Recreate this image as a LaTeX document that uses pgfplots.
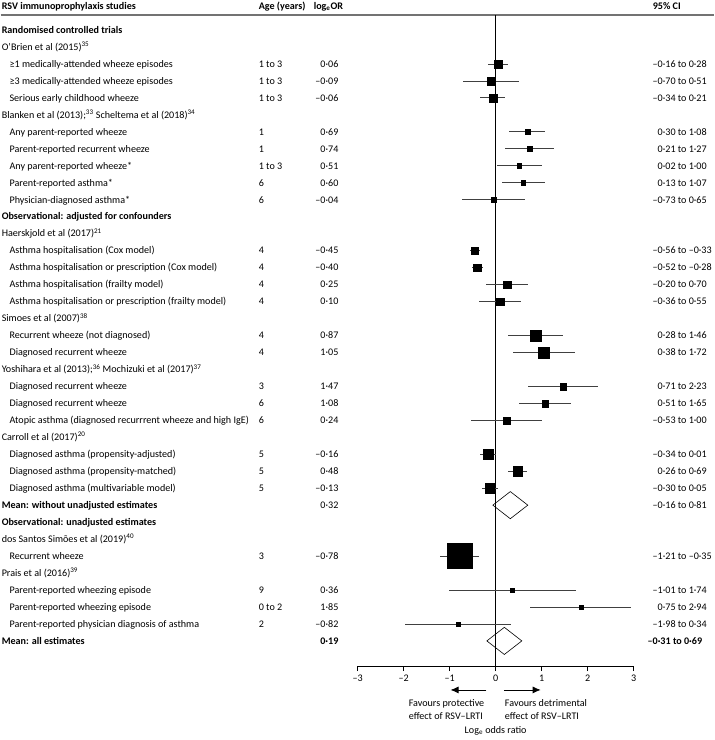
\documentclass[border=0pt]{standalone}
\usepackage{pgfplots}
\pgfplotsset{compat=1.18}
\usepackage{pgfplotstable}
\usetikzlibrary{arrows.meta}
\usepackage{fontspec}
\setmainfont{Carlito}

% row, logOR, CI plus, CI minus, marker half-size (pt)
\pgfplotstableread{
row x ep em s
3 0.06 0.22 0.22 4
4 -0.09 0.60 0.61 4
5 -0.06 0.27 0.28 4
7 0.69 0.39 0.39 2.3
8 0.74 0.53 0.53 2.3
9 0.51 0.49 0.49 2.3
10 0.60 0.47 0.47 2.3
11 -0.04 0.69 0.69 2.3
14 -0.45 0.12 0.11 3.6
15 -0.40 0.12 0.12 3.6
16 0.25 0.45 0.45 3.6
17 0.10 0.45 0.46 3.6
19 0.87 0.59 0.59 5.5
20 1.05 0.67 0.67 5.5
22 1.47 0.76 0.76 3.3
23 1.08 0.57 0.57 3.3
24 0.24 0.76 0.77 3.3
26 -0.16 0.17 0.18 4.8
27 0.48 0.21 0.22 4.8
28 -0.13 0.18 0.17 4.8
32 -0.78 0.43 0.43 12.5
34 0.36 1.38 1.37 2
35 1.85 1.09 1.10 2
36 -0.82 1.16 1.16 2
}\est

\newcommand{\fz}{\fontsize{10.1}{12}\selectfont}
\newcommand{\m}{\llap{–}}
\tikzset{
  txt/.style={anchor=base west, inner sep=0pt, yshift=-3.3pt, font=\fz},
  txr/.style={anchor=base east, inner sep=0pt, yshift=-3.3pt, font=\fz},
}
\newcommand{\st}[2]{\node[txt] at (axis cs:-10.74,#1) {#2};}
\newcommand{\oc}[6]{\node[txt] at (axis cs:-10.57,#1) {#2};
  \node[txt] at (axis cs:-5.152,#1) {#3};
  \node[txr] at (axis cs:-3.413,#1) {#4};
  \node[txt] at (axis cs:3.52,#1) {#5 to #6};}

\begin{document}
\begin{tikzpicture}
\begin{axis}[
  scale only axis, width=276pt, height=651pt,
  xmin=-3, xmax=3, ymin=0.116, ymax=38.48, y dir=reverse,
  axis x line*=bottom, axis y line=none,
  xtick={-3,-2,-1,0,1,2,3}, xticklabels={–3,–2,–1,0,1,2,3},
  tick align=outside, major tick length=5pt,
  tick style={black, line width=0.6pt},
  axis line style={black, line width=0.6pt},
  xticklabel style={font=\fz},
  clip=false,
]
% frame of the picture (invisible)
\path (axis cs:-10.761,-0.768) rectangle (axis cs:4.739,42.84);
% header
\node[txt, font=\fz\bfseries] at (axis cs:-10.74,-0.414) {RSV immunoprophylaxis studies};
\node[txt, font=\fz\bfseries] at (axis cs:-5.152,-0.414) {Age (years)};
\node[txt, font=\fz\bfseries] at (axis cs:-3.957,-0.414) {log\textsubscript{e}OR};
\node[txt, font=\fz\bfseries] at (axis cs:3.413,-0.414) {95\% CI};
\draw[black!55, line width=1.2pt] (axis cs:-10.761,0.116) -- (axis cs:4.739,0.116);

% diamonds (pooled means)
\addplot[draw=black, fill=white, line width=0.6pt] coordinates {(-0.06,29) (0.32,28.2) (0.70,29) (0.32,29.8)} -- cycle;
\addplot[draw=black, fill=white, line width=0.6pt] coordinates {(-0.19,37) (0.19,36.2) (0.57,37) (0.19,37.8)} -- cycle;
% line of no effect
\addplot[black, line width=0.6pt] coordinates {(0,0.116) (0,38.48)};

% estimates
\addplot[scatter, only marks, mark=square*,
  scatter/use mapped color={draw=black, fill=black},
  visualization depends on={\thisrow{s} \as \msize},
  scatter/@pre marker code/.append style={/tikz/mark size=\msize pt},
  mark options={line width=0.2pt},
  error bars/.cd, x dir=both, x explicit, error mark=none,
  error bar style={line width=0.8pt, black!75}]
  table[x=x, y=row, x error plus=ep, x error minus=em] {\est};

% arrows and axis captions
\draw[-{Latex[length=8pt,width=7pt]}, line width=0.8pt] (axis cs:-0.2,39.89) -- (axis cs:-0.98,39.89);
\draw[-{Latex[length=8pt,width=7pt]}, line width=0.8pt] (axis cs:0.18,39.89) -- (axis cs:0.98,39.89);
\node[txt] at (axis cs:-1.89,40.66) {Favours protective};
\node[txt] at (axis cs:-1.89,41.42) {effect of RSV–LRTI};
\node[txt] at (axis cs:0.2,40.66) {Favours detrimental};
\node[txt] at (axis cs:0.2,41.42) {effect of RSV–LRTI};
\node[anchor=base, inner sep=0pt, yshift=-3.3pt, font=\fz] at (axis cs:0,42.25) {Log\textsubscript{e} odds ratio};

% rows
\st{1}{\textbf{Randomised controlled trials}}
\st{2}{O’Brien et al (2015)\textsuperscript{35}}
\oc{3}{≥1 medically-attended wheeze episodes}{1 to 3}{0·06}{\m0·16}{0·28}
\oc{4}{≥3 medically-attended wheeze episodes}{1 to 3}{–0·09}{\m0·70}{0·51}
\oc{5}{Serious early childhood wheeze}{1 to 3}{–0·06}{\m0·34}{0·21}
\st{6}{Blanken et al (2013);\textsuperscript{33} Scheltema et al (2018)\textsuperscript{34}}
\oc{7}{Any parent-reported wheeze}{1}{0·69}{0·30}{1·08}
\oc{8}{Parent-reported recurrent wheeze}{1}{0·74}{0·21}{1·27}
\oc{9}{Any parent-reported wheeze*}{1 to 3}{0·51}{0·02}{1·00}
\oc{10}{Parent-reported asthma*}{6}{0·60}{0·13}{1·07}
\oc{11}{Physician-diagnosed asthma*}{6}{–0·04}{\m0·73}{0·65}
\st{12}{\textbf{Observational: adjusted for confounders}}
\st{13}{Haerskjold et al (2017)\textsuperscript{21}}
\oc{14}{Asthma hospitalisation (Cox model)}{4}{–0·45}{\m0·56}{–0·33}
\oc{15}{Asthma hospitalisation or prescription (Cox model)}{4}{–0·40}{\m0·52}{–0·28}
\oc{16}{Asthma hospitalisation (frailty model)}{4}{0·25}{\m0·20}{0·70}
\oc{17}{Asthma hospitalisation or prescription (frailty model)}{4}{0·10}{\m0·36}{0·55}
\st{18}{Simoes et al (2007)\textsuperscript{38}}
\oc{19}{Recurrent wheeze (not diagnosed)}{4}{0·87}{0·28}{1·46}
\oc{20}{Diagnosed recurrent wheeze}{4}{1·05}{0·38}{1·72}
\st{21}{Yoshihara et al (2013);\textsuperscript{36} Mochizuki et al (2017)\textsuperscript{37}}
\oc{22}{Diagnosed recurrent wheeze}{3}{1·47}{0·71}{2·23}
\oc{23}{Diagnosed recurrent wheeze}{6}{1·08}{0·51}{1·65}
\oc{24}{Atopic asthma (diagnosed recurrrent wheeze and high IgE)}{6}{0·24}{\m0·53}{1·00}
\st{25}{Carroll et al (2017)\textsuperscript{20}}
\oc{26}{Diagnosed asthma (propensity-adjusted)}{5}{–0·16}{\m0·34}{0·01}
\oc{27}{Diagnosed asthma (propensity-matched)}{5}{0·48}{0·26}{0·69}
\oc{28}{Diagnosed asthma (multivariable model)}{5}{–0·13}{\m0·30}{0·05}
\st{29}{\textbf{Mean: without unadjusted estimates}}
\node[txr] at (axis cs:-3.413,29) {0·32};
\node[txt] at (axis cs:3.52,29) {\m0·16 to 0·81};
\st{30}{\textbf{Observational: unadjusted estimates}}
\st{31}{dos Santos Simões et al (2019)\textsuperscript{40}}
\oc{32}{Recurrent wheeze}{3}{–0·78}{\m1·21}{–0·35}
\st{33}{Prais et al (2016)\textsuperscript{39}}
\oc{34}{Parent-reported wheezing episode}{9}{0·36}{\m1·01}{1·74}
\oc{35}{Parent-reported wheezing episode}{0 to 2}{1·85}{0·75}{2·94}
\oc{36}{Parent-reported physician diagnosis of asthma}{2}{–0·82}{\m1·98}{0·34}
\st{37}{\textbf{Mean: all estimates}}
\node[txr, font=\fz\bfseries] at (axis cs:-3.413,37) {0·19};
\node[txt, font=\fz\bfseries] at (axis cs:3.41,37) {\m0·31 to 0·69};
\end{axis}
\end{tikzpicture}
\end{document}
